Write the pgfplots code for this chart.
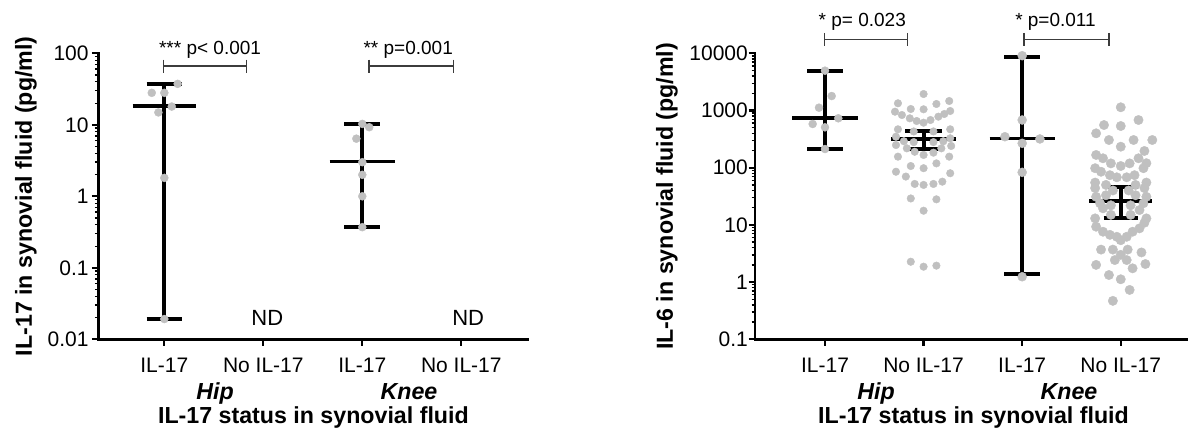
\documentclass[border=0pt]{standalone}
\usepackage{pgfplots}
\pgfplotsset{compat=1.18}
\usepackage{fontspec}
\setmainfont{Liberation Sans}
\definecolor{dotg}{RGB}{192,192,192}
\definecolor{brkgrey}{RGB}{60,60,60}
\newcommand{\tfont}{\fontsize{21}{25}\selectfont}
\newcommand{\lfont}{\fontsize{23.2}{27}\selectfont\bfseries}
\newcommand{\pfont}{\fontsize{19}{22}\selectfont}
\newcommand{\ndfont}{\fontsize{22}{26}\selectfont}

\pgfplotsset{
  ilpanel/.style={
    scale only axis, height=286pt, clip=false,
    axis x line*=bottom, axis y line*=left,
    x axis line style={-}, y axis line style={-},
    axis line style={line width=2.8pt, line cap=rect},
    tick align=outside,
    major tick length=6.5pt, minor tick length=3.5pt,
    every major tick/.append style={line width=2.2pt, black},
    every minor tick/.append style={line width=1.4pt, black},
    xtick={0,1,2,3},
    xticklabels={IL-17,No IL-17,IL-17,No IL-17},
    tick label style={font=\tfont},
    xticklabel style={anchor=base, yshift=-26.7pt},
    yticklabel style={anchor=east, inner sep=0pt},
  },
  ildots/.style={only marks, mark=*, mark size=#1, color=dotg, mark options={draw=none, fill=dotg}},
  ilbar/.style={black, line width=#1, mark=none},
  ilbar/.default=4pt,
  ilbracket/.style={brkgrey, line width=1.5pt, mark=none},
}

\begin{document}
\begin{tikzpicture}
\path[use as bounding box] (0,0) rectangle (1189pt,429pt);

% ---------- left: IL-17
\begin{axis}[ilpanel, ymode=log, at={(98.3pt,89.7pt)}, anchor=south west, width=429pt,
  xmin=-0.667, xmax=3.667, ymin=0.01, ymax=100,
  ytick={0.01,0.1,1,10,100}, yticklabels={0.01,0.1,1,10,100},
  minor ytick={0.02,0.03,0.04,0.05,0.06,0.07,0.08,0.09,
               0.2,0.3,0.4,0.5,0.6,0.7,0.8,0.9,
               2,3,4,5,6,7,8,9,20,30,40,50,60,70,80,90},
  yticklabel style={xshift=-3pt}]

  % hip, IL-17
  \addplot[ilbar] coordinates {(0,0.0192) (0,37.4)};
  \addplot[ilbar] coordinates {(-0.18,37.4) (0.18,37.4)};
  \addplot[ilbar] coordinates {(-0.32,18.2) (0.32,18.2)};
  \addplot[ilbar] coordinates {(-0.18,0.0192) (0.18,0.0192)};
  \addplot[ildots=4pt] coordinates {(0.135,37.4) (-0.127,28) (0,28) (0.075,18)
    (-0.06,14.9) (0,1.81) (0,0.0192)};

  % knee, IL-17
  \addplot[ilbar] coordinates {(2,0.37) (2,10.3)};
  \addplot[ilbar] coordinates {(1.82,10.3) (2.18,10.3)};
  \addplot[ilbar=3pt] coordinates {(1.67,3.03) (2.33,3.03)};
  \addplot[ilbar] coordinates {(1.82,0.37) (2.18,0.37)};
  \addplot[ildots=4pt] coordinates {(2,10.3) (2.07,9.25) (1.94,6.4) (2,3.0)
    (2,2.0) (2,1.0) (2,0.37)};

  % brackets
  \addplot[ilbracket] coordinates {(-0.01,81.9) (-0.01,53.8)};
  \addplot[ilbracket] coordinates {(-0.01,66.4) (0.83,66.4)};
  \addplot[ilbracket] coordinates {(0.83,81.9) (0.83,53.8)};
  \addplot[ilbracket] coordinates {(2.07,81.9) (2.07,53.8)};
  \addplot[ilbracket] coordinates {(2.07,66.4) (2.92,66.4)};
  \addplot[ilbracket] coordinates {(2.92,81.9) (2.92,53.8)};
  \node[anchor=base, font=\pfont, inner sep=0pt] at (axis cs:0.462,96.8) {*** p< 0.001};
  \node[anchor=base, font=\pfont, inner sep=0pt] at (axis cs:2.464,96.8) {** p=0.001};

  \node[anchor=base, font=\ndfont, inner sep=0pt] at (axis cs:1.04,0.0158) {ND};
  \node[anchor=base, font=\ndfont, inner sep=0pt] at (axis cs:3.07,0.0158) {ND};
\end{axis}

% ---------- right: IL-6
\begin{axis}[ilpanel, ymode=log, at={(755pt,89.7pt)}, anchor=south west, width=432pt,
  xmin=-0.71, xmax=3.672, ymin=0.1, ymax=10000,
  ytick={0.1,1,10,100,1000,10000}, yticklabels={0.1,1,10,100,1000,10000},
  minor ytick={0.2,0.3,0.4,0.5,0.6,0.7,0.8,0.9,
               2,3,4,5,6,7,8,9,20,30,40,50,60,70,80,90,
               200,300,400,500,600,700,800,900,
               2000,3000,4000,5000,6000,7000,8000,9000},
  yticklabel style={xshift=-0.5pt}]

  % hip, IL-17
  \addplot[ilbar] coordinates {(0,212) (0,4970)};
  \addplot[ilbar] coordinates {(-0.18,4970) (0.18,4970)};
  \addplot[ilbar] coordinates {(-0.33,748) (0.33,748)};
  \addplot[ilbar] coordinates {(-0.18,212) (0.18,212)};
  \addplot[ildots=4pt] coordinates {(0,4970) (0.068,1790) (-0.061,1120) (0.135,731)
    (-0.125,581) (0,508) (0,212)};

  % hip, no IL-17
  \addplot[ildots=3.8pt] coordinates {
    (1,1942) (0.74,1337) (1.13,1300) (1.26,1466)
    (0.87,1062) (1,1050)
    (0.71,953) (0.78,834) (0.86,730) (0.93,655) (1,612) (1.07,682) (1.15,780) (1.21,869) (1.27,980)
    (0.74,469) (1.27,469) (0.9,430) (1.1,430)
    (0.72,348) (1.27,327) (0.8,290) (1.2,290) (0.9,280) (1.1,280)
    (0.72,249) (0.83,218) (0.91,190) (1,167) (1.10,183) (1.18,218) (1.28,240)
    (0.74,156) (0.87,107) (1,98) (1.13,119) (1.26,156)
    (0.72,85) (0.82,70) (0.91,52) (1,50) (1.10,52) (1.19,57) (1.27,80)
    (0.87,29) (1.13,28)
    (1,17.7)
    (0.87,2.27) (1,1.86) (1.13,1.94)};
  \addplot[ilbar] coordinates {(1,212) (1,444)};
  \addplot[ilbar] coordinates {(0.815,444) (1.185,444)};
  \addplot[ilbar] coordinates {(0.67,314) (1.33,314)};
  \addplot[ilbar] coordinates {(0.815,212) (1.185,212)};

  % knee, IL-17
  \addplot[ilbar] coordinates {(2,1.37) (2,8510)};
  \addplot[ilbar] coordinates {(1.82,8510) (2.18,8510)};
  \addplot[ilbar=3pt] coordinates {(1.67,321) (2.33,321)};
  \addplot[ilbar] coordinates {(1.82,1.37) (2.18,1.37)};
  \addplot[ildots=4.5pt] coordinates {(2,9080) (2,682) (1.825,348) (2.18,318)
    (2,267) (2,83) (2,1.24)};

  % knee, no IL-17
  \addplot[ildots=4.7pt] coordinates {
    (3,1138)
    (2.83,557) (3,535) (3.18,682)
    (2.75,399) (2.88,305) (3.13,305) (3.32,305)
    (3,233)
    (2.75,167) (2.82,146) (2.90,119) (3,107) (3.09,119) (3.18,146) (3.24,196)
    (2.74,98) (2.80,85) (2.89,74) (2.96,68) (3.06,68) (3.14,74) (3.23,98) (3.26,120)
    (2.74,55) (2.85,50) (3.15,50) (3.26,55)
    (2.74,44) (3.24,44) (2.92,40) (3.08,40)
    (2.75,31) (3.26,31) (2.85,33) (3.15,33)
    (2.79,23.9) (3.23,23.9) (2.9,22) (3.1,22)
    (2.82,19.5) (3.19,18.2)
    (2.9,15) (3.1,15) (2.74,13) (3.26,13)
    (2.75,9.3) (2.82,7.6) (2.89,6.7) (2.96,6.2) (3,5.4) (3.06,6.2) (3.12,7.6) (3.19,8.7) (3.24,10.9)
    (2.80,3.7) (2.92,3.7) (3.07,3.7) (3.21,3.3) (2.94,2.43) (3.06,2.43) (3,3.0)
    (2.75,2.0) (2.88,1.33) (3,1.12) (3.12,1.74) (3.25,2.07)
    (3.09,0.73)
    (2.92,0.47)};
  \addplot[ilbar] coordinates {(3,13.4) (3,46)};
  \addplot[ilbar] coordinates {(2.825,46) (3.175,46)};
  \addplot[ilbar] coordinates {(2.68,26.2) (3.32,26.2)};
  \addplot[ilbar] coordinates {(2.825,13.4) (3.175,13.4)};

  % brackets
  \addplot[ilbracket] coordinates {(-0.007,22860) (-0.007,13520)};
  \addplot[ilbracket] coordinates {(-0.007,17580) (0.835,17580)};
  \addplot[ilbracket] coordinates {(0.835,22860) (0.835,13520)};
  \addplot[ilbracket] coordinates {(2.02,22860) (2.02,13520)};
  \addplot[ilbracket] coordinates {(2.02,17580) (2.88,17580)};
  \addplot[ilbracket] coordinates {(2.88,22860) (2.88,13520)};
  \node[anchor=base, font=\pfont, inner sep=0pt] at (axis cs:0.378,28840) {* p= 0.023};
  \node[anchor=base, font=\pfont, inner sep=0pt] at (axis cs:2.338,28840) {* p=0.011};
\end{axis}

% axis titles and group names
\node[rotate=90, font=\lfont, inner sep=0pt] at (26pt,232.7pt) {IL-17 in synovial fluid (pg/ml)};
\node[rotate=90, font=\lfont, inner sep=0pt] at (667pt,232.7pt) {IL-6 in synovial fluid (pg/ml)};
\node[anchor=base, font=\lfont\itshape, inner sep=0pt] at (215pt,29.4pt) {Hip};
\node[anchor=base, font=\lfont\itshape, inner sep=0pt] at (409pt,29.4pt) {Knee};
\node[anchor=base, font=\lfont\itshape, inner sep=0pt] at (876pt,29.4pt) {Hip};
\node[anchor=base, font=\lfont\itshape, inner sep=0pt] at (1069pt,29.4pt) {Knee};
\node[anchor=base, font=\lfont, inner sep=0pt] at (313.4pt,5.4pt) {IL-17 status in synovial fluid};
\node[anchor=base, font=\lfont, inner sep=0pt] at (973.5pt,5.4pt) {IL-17 status in synovial fluid};
\end{tikzpicture}
\end{document}
